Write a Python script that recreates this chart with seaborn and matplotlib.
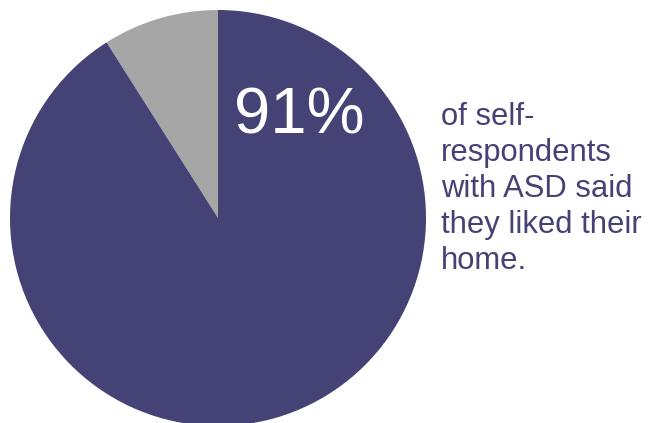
import matplotlib
matplotlib.use("Agg")
import matplotlib.pyplot as plt
import seaborn as sns

sns.set_theme(style="white")
plt.rcParams['font.family'] = ['Liberation Sans', 'DejaVu Sans']

labels = ["Did not like home", "Liked home"]
values = [9, 91]
colors = ["#a6a6a6", "#454275"]
big_label = "91%"
side_text = "of self-\nrespondents\nwith ASD said\nthey liked their\nhome."

W, H = 652, 423
fig = plt.figure(figsize=(W / 100, H / 100), dpi=100)
cx, cy, r = 218, 218, 208
ax = fig.add_axes([(cx - r) / W, (H - cy - r) / H, 2 * r / W, 2 * r / H])
ax.pie(values, colors=colors, startangle=90, counterclock=True, radius=1,
       wedgeprops=dict(linewidth=0))
ax.set_xlim(-1, 1)
ax.set_ylim(-1, 1)
ax.set_aspect("auto")
ax.axis("off")

fig.text(299 / W, 1 - 116 / H, big_label, color="white", fontsize=47,
         ha="center", va="center")
fig.text(441 / W, 1 - 189 / H, side_text, color="#454275", fontsize=22.3,
         ha="left", va="center", linespacing=1.27)

fig.savefig("out.png", dpi=100)
